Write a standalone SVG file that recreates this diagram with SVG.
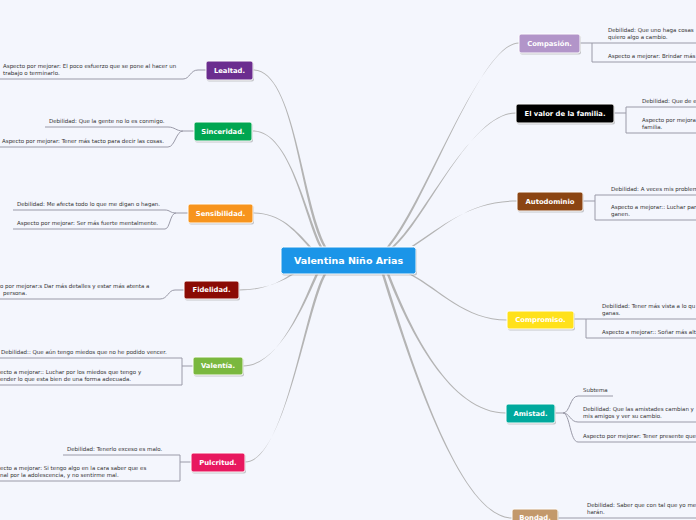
<svg xmlns="http://www.w3.org/2000/svg" width="696" height="520" viewBox="0 0 696 520">
<style>
.bg{fill:#f4f6fd}
.sh{fill:#8a8a8a;opacity:.45}
.n{stroke:#ffffff;stroke-width:1}
.nt{font-family:"DejaVu Sans",Verdana,sans-serif;font-weight:bold;font-size:6.8px;fill:#ffffff;text-anchor:middle}
.ct{font-family:"DejaVu Sans",Verdana,sans-serif;font-weight:bold;font-size:9.5px;fill:#ffffff;text-anchor:middle}
.st{font-family:"DejaVu Sans",Verdana,sans-serif;font-size:5.5px;fill:#333333}
.br{fill:#b4b4b4}
.sl{fill:none;stroke:#9a9aa8;stroke-width:1}
</style>
<rect class="bg" x="0" y="0" width="696" height="520"/>
<g id="connectors">
<path class="br" d="M253,69.5 C295,69.5 301.3,200 326.3,247 L323.7,247 C298.7,200 295,70.5 253,70.5 Z"/>
<path class="br" d="M253,130.5 C290,130.5 306.3,215 322.3,247 L319.7,247 C303.7,215 290,131.5 253,131.5 Z"/>
<path class="br" d="M253,212.5 C280,212.5 296.3,230 311.3,247 L308.7,247 C293.7,230 280,213.5 253,213.5 Z"/>
<path class="br" d="M519,42.5 C480,42.5 426.3,205 389.3,247 L386.7,247 C423.7,205 480,43.5 519,43.5 Z"/>
<path class="br" d="M516,112.5 C470,112.5 426.3,220 394.3,247 L391.7,247 C423.7,220 470,113.5 516,113.5 Z"/>
<path class="br" d="M517,200.5 C470,200.5 446.3,225 414.3,246 L411.7,246 C443.7,225 470,201.5 517,201.5 Z"/>
<path class="br" d="M239,289.5 C265,289.5 281.3,282 294.3,274 L291.7,274 C278.7,282 265,290.5 239,290.5 Z"/>
<path class="br" d="M243,365.5 C280,365.5 306.3,300 318.3,274 L315.7,274 C303.7,300 280,366.5 243,366.5 Z"/>
<path class="br" d="M245,461.5 C285,461.5 306.3,310 326.3,274 L323.7,274 C303.7,310 285,462.5 245,462.5 Z"/>
<path class="br" d="M507,319.5 C465,319.5 441.3,290 411.3,274 L408.7,274 C438.7,290 465,320.5 507,320.5 Z"/>
<path class="br" d="M506,412.5 C450,412.5 411.3,330 389.3,274 L386.7,274 C408.7,330 450,413.5 506,413.5 Z"/>
<path class="br" d="M512,517.5 C460,517.5 411.3,360 384.3,274 L381.7,274 C408.7,360 460,518.5 512,518.5 Z"/>
<path class="sl" d="M206,70 L198,70 C190,70 190,79 183,79 L0,79"/>
<path class="sl" d="M194,131 L183,131 C176,131 175,127 168,127 L45,127"/>
<path class="sl" d="M183,131 C176,131 175,147 168,147 L0,147"/>
<path class="sl" d="M188,213 L176,213 C170,213 170,210 165,210 L13,210"/>
<path class="sl" d="M176,213 C170,213 170,229 165,229 L13,229"/>
<path class="sl" d="M184,290 L175,290 C168,290 168,299 160,299 L0,299"/>
<path class="sl" d="M193,366 L182,366 M0,358 L182,358 L182,385 L0,385"/>
<path class="sl" d="M191,462 L180,462 M63,455 L180,455 L180,481 L0,481"/>
<path class="sl" d="M580,43 L696,43 M592,43 L592,62 L696,62"/>
<path class="sl" d="M614,113 L626,113 M696,107 L626,107 L626,133 L696,133"/>
<path class="sl" d="M583,201 L595,201 M696,195 L595,195 L595,220 L696,220"/>
<path class="sl" d="M574,319 L696,319 M586,319 L586,338 L696,338"/>
<path class="sl" d="M555,413 L563,413 C570,413 570,396 578,396 L613,396"/>
<path class="sl" d="M563,413 C570,413 570,422 578,422 L696,422"/>
<path class="sl" d="M563,413 C570,413 570,442 578,442 L696,442"/>
<path class="sl" d="M558,518 L696,518"/>
</g>
<g id="center">
<rect class="sh" x="282" y="248.5" width="135" height="27" rx="2.5"/>
<rect class="n" x="281" y="247" width="135" height="27" rx="2.5" fill="#1b95e8"/>
<text class="ct" x="348.5" y="264">Valentina Niño Arias</text>
</g>
<g id="lealtad">
<rect class="sh" x="207" y="62.5" width="47" height="19" rx="2"/>
<rect class="n" x="206" y="61" width="47" height="19" rx="2" fill="#6b2d8f"/>
<text class="nt" x="229.5" y="72.9">Lealtad.</text>
<text class="st" x="3" y="68.2">Aspecto por mejorar: El poco esfuerzo que se pone al hacer un</text>
<text class="st" x="3" y="74.5">trabajo o terminarlo.</text>
</g>
<g id="sinceridad">
<rect class="sh" x="195" y="123.5" width="58" height="19" rx="2"/>
<rect class="n" x="194" y="122" width="58" height="19" rx="2" fill="#00a651"/>
<text class="nt" x="223" y="133.9">Sinceridad.</text>
<text class="st" x="49" y="122.5">Debilidad: Que la gente no lo es conmigo.</text>
<text class="st" x="2" y="142.5">Aspecto por mejorar: Tener más tacto para decir las cosas.</text>
</g>
<g id="sensibilidad">
<rect class="sh" x="189" y="205.5" width="65" height="19" rx="2"/>
<rect class="n" x="188" y="204" width="65" height="19" rx="2" fill="#f7941d"/>
<text class="nt" x="220.5" y="215.9">Sensibilidad.</text>
<text class="st" x="17" y="205.5">Debilidad: Me afecta todo lo que me digan o hagan.</text>
<text class="st" x="17" y="224.5">Aspecto por mejorar: Ser más fuerte mentalmente.</text>
</g>
<g id="fidelidad">
<rect class="sh" x="185" y="282.5" width="55" height="18" rx="2"/>
<rect class="n" x="184" y="281" width="55" height="18" rx="2" fill="#8b0b04"/>
<text class="nt" x="211.5" y="292.4">Fidelidad.</text>
<text class="st" x="0" y="288.2">o por mejorar:s Dar más detalles y estar más atenta a</text>
<text class="st" x="3" y="294.5">persona.</text>
</g>
<g id="valentia">
<rect class="sh" x="194" y="358.5" width="50" height="18" rx="2"/>
<rect class="n" x="193" y="357" width="50" height="18" rx="2" fill="#7ab83f"/>
<text class="nt" x="218" y="368.4">Valentía.</text>
<text class="st" x="1" y="353.5">Debilidad:: Que aún tengo miedos que no he podido vencer.</text>
<text class="st" x="0" y="374.2">ecto a mejorar:: Luchar por los miedos que tengo y</text>
<text class="st" x="0" y="380.5">ender lo que esta bien de una forma adecuada.</text>
</g>
<g id="pulcritud">
<rect class="sh" x="192" y="454.5" width="54" height="19" rx="2"/>
<rect class="n" x="191" y="453" width="54" height="19" rx="2" fill="#e8185f"/>
<text class="nt" x="218" y="464.9">Pulcritud.</text>
<text class="st" x="67" y="450.5">Debilidad: Tenerlo exceso es malo.</text>
<text class="st" x="0" y="470.2">ecto a mejorar: Si tengo algo en la cara saber que es</text>
<text class="st" x="0" y="476.5">nal por la adolescencia, y no sentirme mal.</text>
</g>
<g id="compasion">
<rect class="sh" x="520" y="35.5" width="61" height="19" rx="2"/>
<rect class="n" x="519" y="34" width="61" height="19" rx="2" fill="#b295c9"/>
<text class="nt" x="549.5" y="45.9">Compasión.</text>
<text class="st" x="608" y="32.2">Debilidad: Que uno haga cosas</text>
<text class="st" x="608" y="38.5">quiero algo a cambio.</text>
<text class="st" x="608" y="57.5">Aspecto a mejorar: Brindar más</text>
</g>
<g id="familia">
<rect class="sh" x="517" y="105.5" width="98" height="19" rx="2"/>
<rect class="n" x="516" y="104" width="98" height="19" rx="2" fill="#000000"/>
<text class="nt" x="565" y="115.9">El valor de la familia.</text>
<text class="st" x="642" y="102.5">Debilidad: Que de e</text>
<text class="st" x="642" y="122.2">Aspecto por mejora</text>
<text class="st" x="642" y="128.5">familia.</text>
</g>
<g id="autodominio">
<rect class="sh" x="518" y="193.5" width="66" height="19" rx="2"/>
<rect class="n" x="517" y="192" width="66" height="19" rx="2" fill="#8b4513"/>
<text class="nt" x="550" y="203.9">Autodominio</text>
<text class="st" x="611" y="190.5">Debilidad: A veces mis problem</text>
<text class="st" x="611" y="209.2">Aspecto a mejorar:: Luchar par</text>
<text class="st" x="611" y="215.5">ganen.</text>
</g>
<g id="compromiso">
<rect class="sh" x="508" y="312.5" width="67" height="18" rx="2"/>
<rect class="n" x="507" y="311" width="67" height="18" rx="2" fill="#ffe11a"/>
<text class="nt" x="540.5" y="322.4">Compromiso.</text>
<text class="st" x="602" y="308.2">Debilidad: Tener más vista a lo qu</text>
<text class="st" x="602" y="314.5">ganas.</text>
<text class="st" x="602" y="333.5">Aspecto a mejorar:: Soñar más alt</text>
</g>
<g id="amistad">
<rect class="sh" x="507" y="405.5" width="49" height="19" rx="2"/>
<rect class="n" x="506" y="404" width="49" height="19" rx="2" fill="#00a99d"/>
<text class="nt" x="530.5" y="415.9">Amistad.</text>
<text class="st" x="583" y="391.5">Subtema</text>
<text class="st" x="583" y="411.2">Debilidad: Que las amistades cambian y</text>
<text class="st" x="583" y="417.5">mis amigos y ver su cambio.</text>
<text class="st" x="583" y="437.5">Aspecto por mejorar: Tener presente que</text>
</g>
<g id="bondad">
<rect class="sh" x="513" y="510.5" width="46" height="19" rx="2"/>
<rect class="n" x="512" y="509" width="46" height="19" rx="2" fill="#c3996b"/>
<text class="nt" x="535" y="519.5">Bondad.</text>
<text class="st" x="587" y="507.2">Debilidad: Saber que con tal que yo me</text>
<text class="st" x="587" y="513.5">harán.</text>
</g>
</svg>
